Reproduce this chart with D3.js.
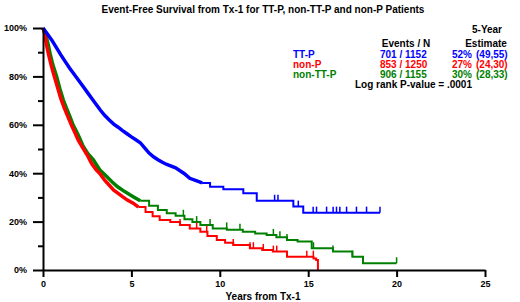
<!DOCTYPE html>
<html>
<head>
<meta charset="utf-8">
<script src="https://cdn.jsdelivr.net/npm/d3@7"></script>
<style>
  body { margin: 0; background: #fff; }
  svg text { font-family: "Liberation Sans", Arial, sans-serif; font-weight: bold; }
</style>
</head>
<body>
<div id="chart"></div>
<script>
'use strict';

// values (years, % event-free)
const ttpTimes = [0, 0.25, 0.5, 0.75, 1.0, 1.25, 1.5, 1.75, 2.0, 2.25, 2.5, 2.75, 3.0, 3.25, 3.5, 3.75,
  4.0, 4.25, 4.5, 4.75, 5.0, 5.25, 5.5, 5.75, 6.0, 6.25, 6.5, 6.75, 7.0, 7.5, 8.0, 8.3, 8.7, 9.0,
  9.45, 10.2, 11.33, 12.09, 14.16, 14.72, 19.06];
const ttpSurv = [100, 97.5, 95, 92, 89, 86.2, 83.5, 81, 78.5, 76, 73.5, 71, 68.5, 66, 63.8, 62,
  60.3, 59, 57.6, 56.3, 55, 53.8, 52.6, 50.5, 48.3, 46.8, 45.6, 44.5, 43.6, 42.2, 39.8, 37.9, 36.8, 36,
  34.4, 33.4, 31.7, 28.6, 26.2, 23.7, 23.7];
const ttpCensor = [13.1, 13.29, 14.44, 15.28, 15.47, 16.04, 16.41, 16.6, 16.79, 17.17, 17.73, 18.3, 19.06];

const nonPTimes = [0, 0.1, 0.2, 0.3, 0.45, 0.6, 0.8, 1.0, 1.2, 1.4, 1.6, 1.8, 2.0, 2.25, 2.5, 2.75,
  3.0, 3.25, 3.5, 3.75, 4.0, 4.25, 4.5, 4.75, 5.1, 5.4, 5.8, 6.2, 6.6, 7.2, 7.75, 8.3, 8.9, 9.3,
  9.83, 10.3, 10.76, 11.7, 12.4, 13.0, 13.8, 15.3, 15.45, 15.55];
const nonPSurv = [100, 97.5, 93, 89.5, 85, 81, 76, 71, 67, 63.5, 60, 56.8, 53.5, 50.5, 47.5, 44,
  41.5, 39.5, 37, 35, 33, 31.7, 30.3, 29, 27.6, 26, 24, 22.2, 20.7, 19.8, 18.6, 17.1, 15.8, 14,
  12.4, 11.3, 10.3, 9, 8.3, 7.6, 5.5, 4.8, 4.1, 0];
const nonPCensor = [7.75, 8.69, 9.26, 10.76, 11.71, 11.9, 12.46, 13.03, 13.22, 14.92, 15.29];

const nonTTPTimes = [0, 0.15, 0.3, 0.4, 0.55, 0.77, 0.95, 1.15, 1.35, 1.53, 1.7, 1.91, 2.1, 2.28,
  2.55, 2.85, 3.05, 3.22, 3.6, 3.9, 4.2, 4.6, 5.1, 5.5, 6.0, 6.5, 7.0, 7.5, 8.0, 8.45, 8.9, 9.6,
  10.4, 11.3, 12.0, 12.65, 13.2, 13.8, 14.4, 15.2, 16.4, 17.5, 18.1, 20];
const nonTTPSurv = [100, 97.5, 93, 89.5, 85, 80, 75, 70.2, 66.5, 63.3, 60, 57, 54, 51,
  48, 45.5, 43.2, 41.3, 38.6, 36.5, 34.5, 32.5, 30.3, 28.6, 26.5, 24.8, 23.4, 22.4, 21, 19.8, 18.6, 17.2,
  16.6, 15.8, 15.1, 14.5, 13.5, 12.4, 11.8, 9, 7.6, 5.5, 2.8, 2.8];
const nonTTPCensor = [7.94, 8.69, 9.45, 10.39, 11.14, 13.03, 13.4, 13.8, 15.3, 16.4, 17.5, 20];

const groupNames = ['TT-P', 'non-P', 'non-TT-P'];
const groupColors = ['#0000ff', '#ff0000', '#008000'];
const eventsN = ['701 / 1152', '853 / 1250', '906 / 1155'];
const estimates = ['52%', '27%', '30%'];
const estimateCI = ['(49,55)', '(24,30)', '(28,33)'];

const xTicks = [0, 5, 10, 15, 20, 25];
const yTicks = [0, 20, 40, 60, 80, 100];
const yMinorTicks = [10, 30, 50, 70, 90];

const width = 520;
const height = 302;

const svg = d3.select('#chart')
  .append('svg')
    .attr('width', width)
    .attr('height', height);

const x = d3.scaleLinear().domain([0, 25]).range([43, 485]);
const y = d3.scaleLinear().domain([0, 100]).range([270, 28]);

// title
svg.append('text')
  .attr('x', 263)
  .attr('y', 13)
  .attr('text-anchor', 'middle')
  .attr('font-size', 10)
  .text('Event-Free Survival from Tx-1 for TT-P, non-TT-P and non-P Patients');

// curves
const series = [
  {times: ttpTimes, surv: ttpSurv, censor: ttpCensor, dense: 9},
  {times: nonPTimes, surv: nonPSurv, censor: nonPCensor, dense: 5.5},
  {times: nonTTPTimes, surv: nonTTPSurv, censor: nonTTPCensor, dense: 5.5},
];

const stepLine = d3.line()
  .x((d) => x(d[0]))
  .y((d) => y(d[1]))
  .curve(d3.curveStepAfter);

// early part has many events, so it reads as a thick smooth band
const denseLine = d3.line()
  .x((d) => x(d[0]))
  .y((d) => y(d[1]));

// draw green first, then red, then blue like the reference
[2, 1, 0].forEach((i) => {
  const s = series[i];
  const pts = s.times.map((t, j) => [t, s.surv[j]]);
  const split = d3.bisector((p) => p[0]).right(pts, s.dense) - 1;

  svg.append('path')
    .attr('d', stepLine(pts.slice(split)))
    .attr('fill', 'none')
    .attr('stroke', groupColors[i])
    .attr('stroke-width', 2);

  svg.append('path')
    .attr('d', denseLine(pts.slice(0, split + 1)))
    .attr('fill', 'none')
    .attr('stroke', groupColors[i])
    .attr('stroke-width', 3.5);

  const bis = d3.bisector((d) => d).right;
  svg.append('g')
    .selectAll('line')
    .data(s.censor)
    .enter()
    .append('line')
    .attr('x1', (t) => x(t))
    .attr('x2', (t) => x(t))
    .attr('y1', (t) => y(s.surv[Math.max(0, bis(s.times, t) - 1)]))
    .attr('y2', (t) => y(s.surv[Math.max(0, bis(s.times, t) - 1)]) - 6)
    .attr('stroke', groupColors[i])
    .attr('stroke-width', 1.5);
});

// axes
svg.append('g')
  .attr('transform', 'translate(0,270)')
  .call(d3.axisBottom(x).tickValues(xTicks).tickSize(7).tickSizeOuter(0).tickPadding(4));

svg.append('g')
  .attr('transform', 'translate(43,0)')
  .call(d3.axisLeft(y).tickValues(yTicks).tickSize(10).tickSizeOuter(0).tickPadding(6)
    .tickFormat((d) => d + '%'));

svg.append('g')
  .attr('transform', 'translate(43,0)')
  .call(d3.axisLeft(y).tickValues(yMinorTicks).tickSize(5).tickSizeOuter(0).tickFormat(''))
  .select('.domain').remove();

svg.selectAll('.domain, .tick line')
  .attr('stroke', '#000')
  .attr('stroke-width', 2);
svg.selectAll('.tick text')
  .attr('fill', '#000')
  .attr('font-size', 9)
  .attr('font-family', '"Liberation Sans", Arial, sans-serif')
  .attr('font-weight', 'bold');

svg.append('text')
  .attr('x', 263)
  .attr('y', 300)
  .attr('text-anchor', 'middle')
  .attr('font-size', 10)
  .text('Years from Tx-1');

// legend table
const legend = svg.append('g').attr('font-size', 10);
legend.append('text').attr('x', 487).attr('y', 33).attr('text-anchor', 'middle').text('5-Year');
legend.append('text').attr('x', 486).attr('y', 47).attr('text-anchor', 'middle').text('Estimate');
legend.append('text').attr('x', 406).attr('y', 47).attr('text-anchor', 'middle').text('Events / N');

groupNames.forEach((name, i) => {
  const yy = 58 + i * 10;
  const c = groupColors[i];
  legend.append('text').attr('x', 293).attr('y', yy).attr('fill', c).text(name);
  legend.append('text').attr('x', 380).attr('y', yy).attr('fill', c).text(eventsN[i]);
  legend.append('text').attr('x', 452).attr('y', yy).attr('fill', c).text(estimates[i]);
  legend.append('text').attr('x', 476).attr('y', yy).attr('fill', c).text(estimateCI[i]);
});

legend.append('text').attr('x', 355).attr('y', 88).text('Log rank P-value = .0001');
</script>
</body>
</html>
